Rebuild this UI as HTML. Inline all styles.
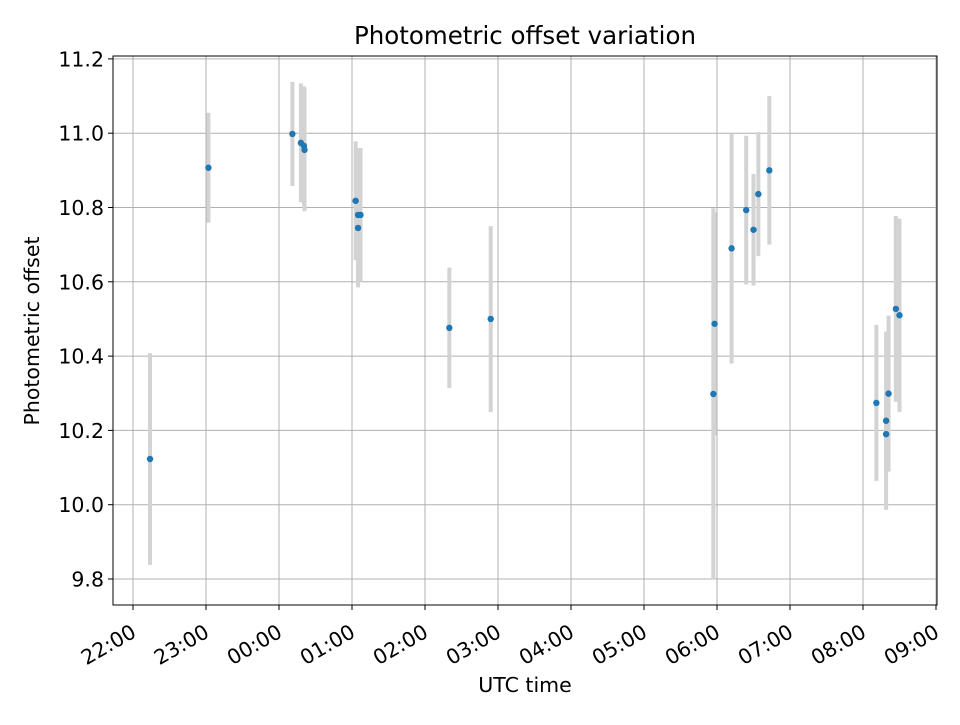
<!DOCTYPE html>
<html><head><meta charset="utf-8"><style>
html,body{margin:0;padding:0;background:#fff;}
svg text{font-family:"DejaVu Sans","Liberation Sans",sans-serif;fill:#000;}
</style></head><body>
<svg id="chart" width="960" height="720" viewBox="0 0 960 720" xmlns="http://www.w3.org/2000/svg">
<rect width="960" height="720" fill="#fff"/>
<g id="grid"></g><g id="errs"></g><g id="pts"></g>
<rect x="113" y="56" width="824" height="549" fill="none" stroke="#000" stroke-width="1"/>
<g id="axes"></g>
<text x="525" y="44" text-anchor="middle" font-size="24.5">Photometric offset variation</text>
<text x="525" y="692" text-anchor="middle" font-size="20.5">UTC time</text>
<text transform="translate(39,331) rotate(-90)" text-anchor="middle" font-size="20.5">Photometric offset</text>
</svg>
<script>
// minutes after 22:00
const times = [14, 62, 131, 138, 140.5, 141, 183, 185, 187, 185, 260, 294, 477, 478, 492, 504, 510, 514, 523, 611, 621, 619, 619, 627, 630];
const offsets = [10.123, 10.907, 10.998, 10.974, 10.966, 10.955, 10.818, 10.78, 10.78, 10.745, 10.476, 10.5, 10.298, 10.487, 10.69, 10.793, 10.74, 10.836, 10.9, 10.274, 10.299, 10.226, 10.19, 10.527, 10.51];
const errors = [0.285, 0.148, 0.14, 0.16, 0.16, 0.165, 0.16, 0.18, 0.18, 0.16, 0.162, 0.25, 0.5, 0.3, 0.31, 0.2, 0.15, 0.167, 0.2, 0.21, 0.21, 0.24, 0.1, 0.25, 0.26];
const yTicks = [9.8, 10.0, 10.2, 10.4, 10.6, 10.8, 11.0, 11.2];
const xTickLabels = ["22:00","23:00","00:00","01:00","02:00","03:00","04:00","05:00","06:00","07:00","08:00","09:00"];

const NS = "http://www.w3.org/2000/svg";
const xScale = m => 133 + m * 73 / 60;
const yScale = v => 579 - (v - 9.8) * 371.5;
function mk(tag, attrs, parent){const e=document.createElementNS(NS,tag);for(const k in attrs)e.setAttribute(k,attrs[k]);document.getElementById(parent).appendChild(e);return e;}

yTicks.forEach((t,i)=>{
  const y=yScale(t);
  const g=mk("line",{x1:113,x2:937,y1:y,y2:y,stroke:"#b0b0b0","stroke-width":1},"grid");
  
  
  const tk=mk("line",{x1:108,x2:113,y1:y,y2:y,stroke:"#000"},"axes");
  
  
  const tx=mk("text",{x:104,y:y+7.5,"text-anchor":"end","font-size":20.5},"axes");
  tx.textContent=t.toFixed(1);
  
  
});
xTickLabels.forEach((lab,i)=>{
  const x=xScale(i*60);
  const g=mk("line",{x1:x,x2:x,y1:56,y2:605,stroke:"#b0b0b0","stroke-width":1},"grid");
  
  
  const tk=mk("line",{x1:x,x2:x,y1:605,y2:610,stroke:"#000"},"axes");
  
  
  const tx=mk("text",{transform:`translate(${x+4.5},${636}) rotate(-30)`,"text-anchor":"end","font-size":20.5},"axes");
  tx.textContent=lab;
  
  
});
times.forEach((m,i)=>{
  const x=xScale(m);
  const e=mk("line",{x1:x,x2:x,y1:yScale(offsets[i]+errors[i]),y2:yScale(offsets[i]-errors[i]),stroke:"#d3d3d3","stroke-width":4},"errs");
  
  
  const c=mk("circle",{cx:x,cy:yScale(offsets[i]),r:3.2,fill:"#1f77b4"},"pts");
  
  
});
</script>
</body></html>
